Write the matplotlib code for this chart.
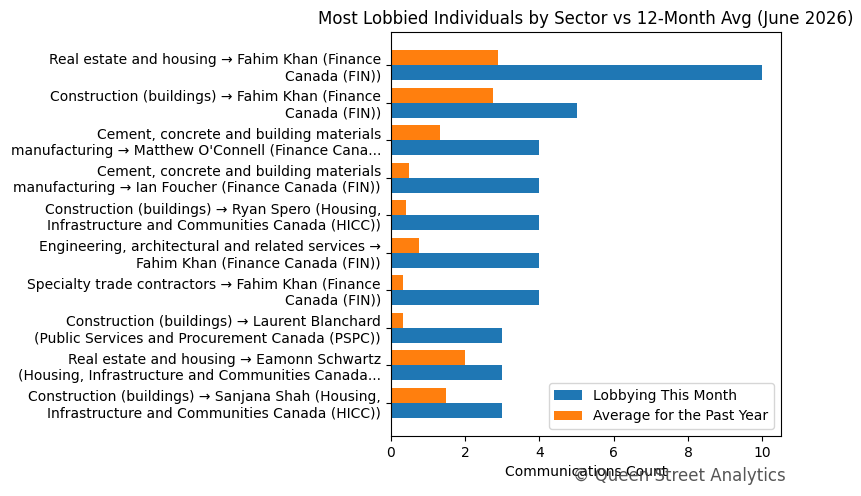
import numpy as np
import matplotlib.pyplot as plt

labels = [
    "Real estate and housing \u2192 Fahim Khan (Finance\nCanada (FIN))",
    "Construction (buildings) \u2192 Fahim Khan (Finance\nCanada (FIN))",
    "Cement, concrete and building materials\nmanufacturing \u2192 Matthew O'Connell (Finance Cana...",
    "Cement, concrete and building materials\nmanufacturing \u2192 Ian Foucher (Finance Canada (FIN))",
    "Construction (buildings) \u2192 Ryan Spero (Housing,\nInfrastructure and Communities Canada (HICC))",
    "Engineering, architectural and related services \u2192\nFahim Khan (Finance Canada (FIN))",
    "Specialty trade contractors \u2192 Fahim Khan (Finance\nCanada (FIN))",
    "Construction (buildings) \u2192 Laurent Blanchard\n(Public Services and Procurement Canada (PSPC))",
    "Real estate and housing \u2192 Eamonn Schwartz\n(Housing, Infrastructure and Communities Canada...",
    "Construction (buildings) \u2192 Sanjana Shah (Housing,\nInfrastructure and Communities Canada (HICC))",
]
this_month = [10, 5, 4, 4, 4, 4, 4, 3, 3, 3]
past_year_avg = [2.9, 2.75, 1.33, 0.5, 0.42, 0.75, 0.33, 0.33, 2.0, 1.5]

fig, ax = plt.subplots(figsize=(8.62, 4.96), dpi=100)
y = np.arange(len(labels))
h = 0.4
ax.barh(y + h / 2, this_month, height=h, color='#1f77b4', label='Lobbying This Month')
ax.barh(y - h / 2, past_year_avg, height=h, color='#ff7f0e', label='Average for the Past Year')
ax.set_yticks(y)
ax.set_yticklabels(labels)
ax.invert_yaxis()
ax.set_xlabel('Communications Count')
ax.set_title('Most Lobbied Individuals by Sector vs 12-Month Avg (June 2026)')
ax.legend(loc='lower right')

fig.subplots_adjust(left=0.4532, right=0.906, top=0.9355, bottom=0.121)
fig.text(0.912, 0.022, '\u00a9 Queen Street Analytics', ha='right', va='bottom',
         fontsize=12, color='#444444', alpha=0.9)
fig.savefig('out.png', dpi=100)
